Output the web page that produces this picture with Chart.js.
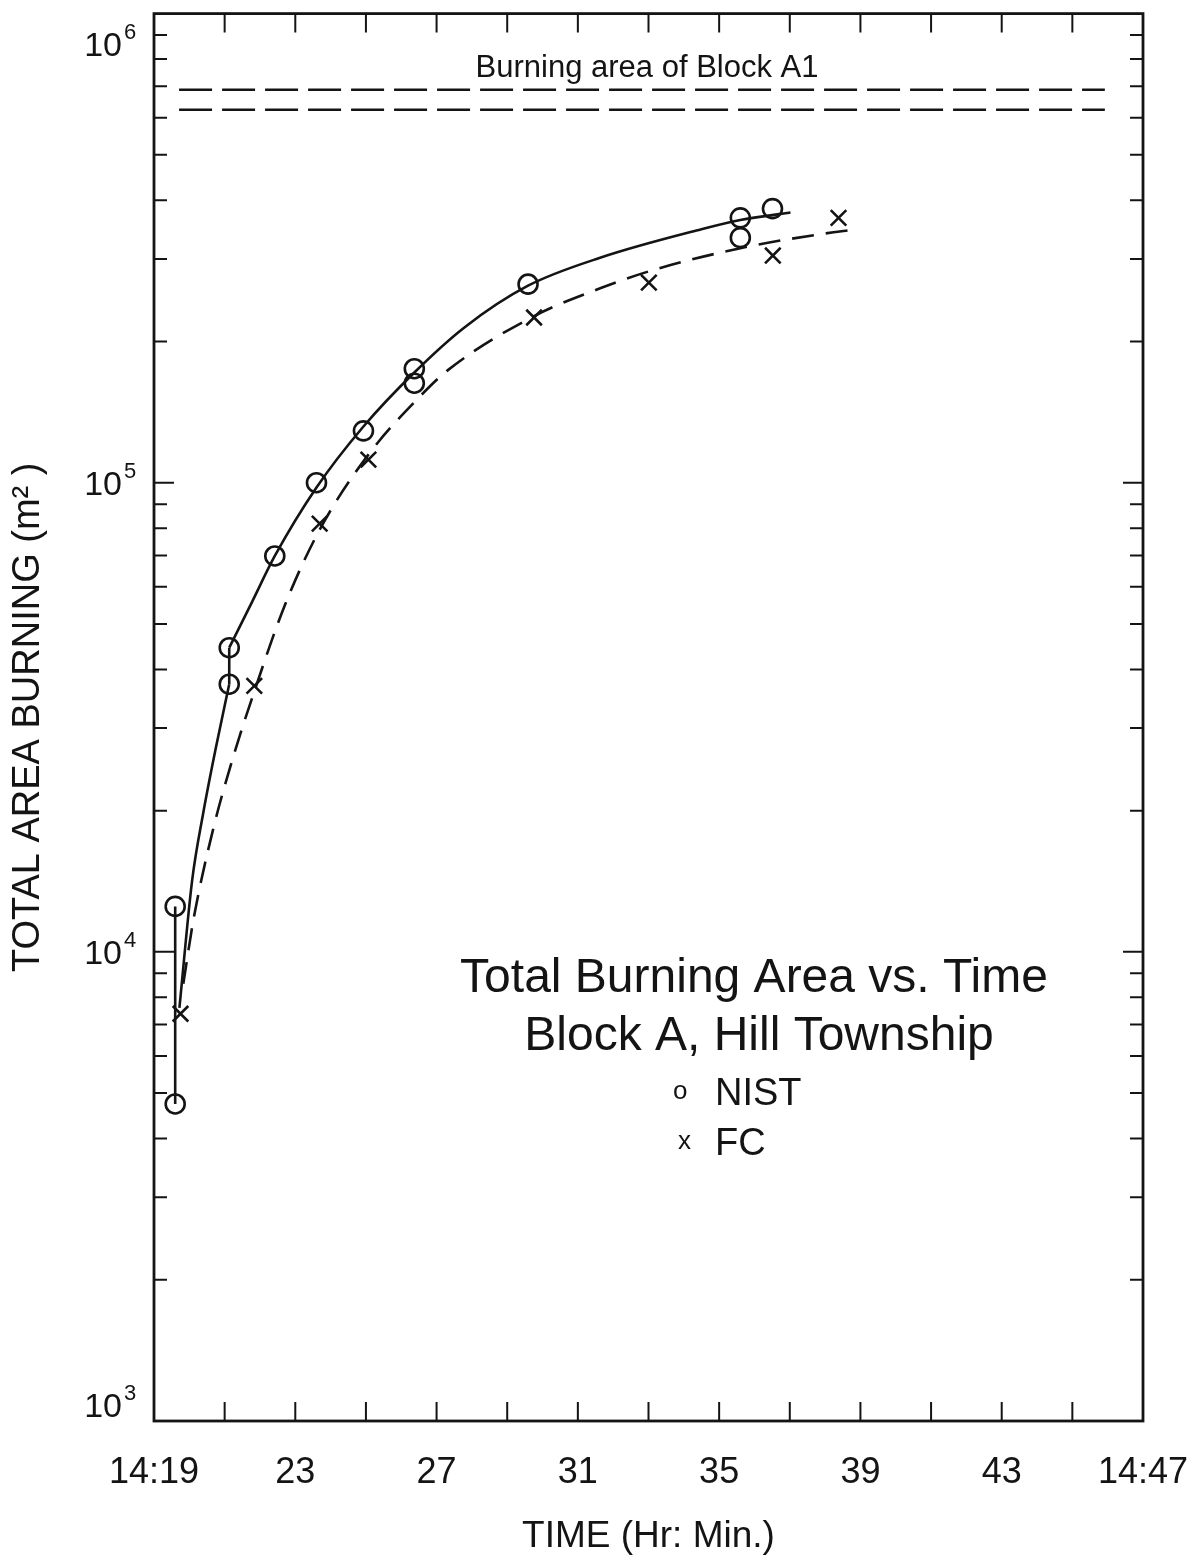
<!DOCTYPE html>
<html>
<head>
<meta charset="utf-8">
<script src="https://cdn.jsdelivr.net/npm/chart.js@4.4.1/dist/chart.umd.min.js"></script>
<style>
  html, body { margin: 0; padding: 0; background: #fff; }
  #wrap { width: 1194px; height: 1565px; }
</style>
</head>
<body>
<div id="wrap"><canvas id="area-chart" width="1194" height="1565"></canvas></div>
<script>
// measured points (minutes after 14:00, m^2)
const nistTime = [19.6, 19.6, 21.13, 21.13, 22.42, 23.6, 24.93, 26.37, 26.37, 29.59, 35.6, 35.6, 36.51];
const nistArea = [12500, 4740, 44500, 37200, 69800, 100000, 129000, 175000, 163000, 265000, 367000, 333000, 384000];
const fcTime = [19.75, 21.84, 23.69, 25.07, 29.76, 33.01, 36.52, 38.38];
const fcArea = [7380, 36900, 81800, 112000, 225000, 267000, 305000, 367000];

// hand-drawn fit curves
const nistFitLowTime = [19.72, 20.08, 20.39, 20.75, 21.13];
const nistFitLowArea = [7600, 14200, 19700, 27200, 37200];
const nistFitHighTime = [21.13, 21.77, 22.42, 23.6, 24.93, 26.37, 27.77, 29.59, 31.65, 34.48, 35.6, 37.02];
const nistFitHighArea = [44500, 55600, 69800, 97700, 131800, 171800, 213800, 263000, 302000, 346700, 363100, 376700];
const fcFitTime = [19.83, 20.12, 20.67, 21.22, 21.84, 22.71, 23.69, 25.07, 26.48, 27.32, 29.76, 31.65, 33.07, 35.6, 38.24, 38.66];
const fcFitArea = [8550, 11750, 18200, 25700, 35900, 54950, 79400, 114800, 151400, 173800, 226500, 260000, 283100, 316200, 342000, 345100];

// burning area of block A1 (two bounds)
const blockA1Area = [688000, 624000];
const blockA1Span = [19.71, 45.92];

// x tick labels
const timeMin = 19;
const timeMax = 47;
const timeLabels = { 19: "14:19", 23: "23", 27: "27", 31: "31", 35: "35", 39: "39", 43: "43", 47: "14:47" };
const decades = [3, 4, 5, 6];

const INK = "#141414";
const FONT = "'Liberation Sans', Arial, Helvetica, sans-serif";

const toPoints = (xs, ys) => xs.map((v, i) => ({ x: v, y: ys[i] }));

function rangeBar(i, j) {
    return toPoints([nistTime[i], nistTime[j]], [nistArea[i], nistArea[j]]);
}

const lineStyle = {
    showLine: true,
    pointRadius: 0,
    borderColor: INK,
    borderWidth: 2.6,
    fill: false,
};

const figureDecor = {
    id: "figureDecor",
    afterDatasetsDraw(chart) {
        const { ctx, chartArea: a, scales } = chart;
        const x = scales.x;
        const y = scales.y;
        ctx.save();
        ctx.strokeStyle = INK;
        ctx.fillStyle = INK;

        // frame
        ctx.lineWidth = 2.8;
        ctx.strokeRect(a.left, a.top, a.right - a.left, a.bottom - a.top);

        // inward ticks
        ctx.lineWidth = 2;
        ctx.beginPath();
        x.ticks.forEach((t) => {
            const px = x.getPixelForValue(t.value);
            if (px <= a.left + 2 || px >= a.right - 2) return;
            ctx.moveTo(px, a.bottom);
            ctx.lineTo(px, a.bottom - 19);
            ctx.moveTo(px, a.top);
            ctx.lineTo(px, a.top + 19);
        });
        for (let e = 3; e <= 5; e++) {
            for (let m = 1; m <= 9; m++) {
                if (e === 3 && m === 1) continue;
                const py = y.getPixelForValue(m * Math.pow(10, e));
                const len = m === 1 ? 20 : 13;
                ctx.moveTo(a.left, py);
                ctx.lineTo(a.left + len, py);
                ctx.moveTo(a.right, py);
                ctx.lineTo(a.right - len, py);
            }
        }
        ctx.stroke();

        // y tick labels 10^n
        decades.forEach((e) => {
            const py = y.getPixelForValue(Math.pow(10, e));
            let base = py + 12;
            if (e === 6) base = py + 42;
            if (e === 3) base = py - 4;
            ctx.textAlign = "right";
            ctx.textBaseline = "alphabetic";
            ctx.font = "34px " + FONT;
            ctx.fillText("10", 122, base);
            ctx.textAlign = "left";
            ctx.font = "22px " + FONT;
            ctx.fillText(String(e), 124, base - 17);
        });

        // annotations
        ctx.textBaseline = "alphabetic";
        ctx.textAlign = "center";
        ctx.font = "31px " + FONT;
        ctx.fillText("Burning area of Block A1", 647, 77);

        ctx.font = "48px " + FONT;
        ctx.fillText("Total Burning Area vs. Time", 754, 992);
        ctx.fillText("Block A, Hill Township", 759, 1050);

        ctx.textAlign = "left";
        ctx.font = "26px " + FONT;
        ctx.fillText("o", 673, 1099);
        ctx.fillText("x", 678, 1149);
        ctx.font = "38px " + FONT;
        ctx.fillText("NIST", 715, 1105);
        ctx.fillText("FC", 715, 1155);
        ctx.restore();
    },
};

document.addEventListener("DOMContentLoaded", () => {
    const ctx = document.getElementById("area-chart").getContext("2d");
    new Chart(ctx, {
        type: "scatter",
        data: {
            datasets: [
                {
                    ...lineStyle,
                    data: toPoints(blockA1Span, [blockA1Area[0], blockA1Area[0]]),
                    borderDash: [33, 10],
                    borderWidth: 2.4,
                },
                {
                    ...lineStyle,
                    data: toPoints(blockA1Span, [blockA1Area[1], blockA1Area[1]]),
                    borderDash: [33, 10],
                    borderWidth: 2.4,
                },
                { ...lineStyle, data: toPoints(nistFitLowTime, nistFitLowArea), cubicInterpolationMode: "monotone" },
                { ...lineStyle, data: toPoints(nistFitHighTime, nistFitHighArea), cubicInterpolationMode: "monotone" },
                { ...lineStyle, data: rangeBar(0, 1) },
                { ...lineStyle, data: rangeBar(2, 3) },
                {
                    ...lineStyle,
                    data: toPoints(fcFitTime, fcFitArea),
                    cubicInterpolationMode: "monotone",
                    borderDash: [22, 12],
                },
                {
                    label: "NIST",
                    data: toPoints(nistTime, nistArea),
                    pointStyle: "circle",
                    pointRadius: 9.5,
                    pointBorderWidth: 2.6,
                    pointBorderColor: INK,
                    pointBackgroundColor: "rgba(0,0,0,0)",
                },
                {
                    label: "FC",
                    data: toPoints(fcTime, fcArea),
                    pointStyle: "crossRot",
                    pointRadius: 11,
                    pointBorderWidth: 2.6,
                    pointBorderColor: INK,
                },
            ],
        },
        options: {
            responsive: false,
            animation: false,
            events: [],
            layout: { padding: { top: 13, right: 51, left: 0, bottom: 0 } },
            plugins: { legend: { display: false }, tooltip: { enabled: false } },
            scales: {
                x: {
                    type: "linear",
                    min: timeMin,
                    max: timeMax,
                    grid: { display: false, drawTicks: false },
                    border: { display: false },
                    ticks: {
                        stepSize: 2,
                        autoSkip: false,
                        maxRotation: 0,
                        padding: 30,
                        color: INK,
                        font: { size: 36, family: FONT },
                        callback: (v) => timeLabels[v] || "",
                    },
                    title: {
                        display: true,
                        text: "TIME (Hr: Min.)",
                        color: INK,
                        font: { size: 37, family: FONT },
                        padding: { top: 0, bottom: 6 },
                    },
                    afterFit: (scale) => {
                        scale.height = 144;
                        scale.paddingLeft = 0;
                        scale.paddingRight = 0;
                    },
                },
                y: {
                    type: "logarithmic",
                    min: 1000,
                    max: 1000000,
                    grid: { display: false, drawTicks: false },
                    border: { display: false },
                    ticks: { display: false },
                    title: {
                        display: true,
                        text: "TOTAL AREA BURNING (m² )",
                        color: INK,
                        font: { size: 38, family: FONT },
                        padding: { top: 6, bottom: 0 },
                    },
                    afterFit: (scale) => {
                        scale.width = 154;
                        scale.paddingTop = 0;
                        scale.paddingBottom = 0;
                    },
                },
            },
        },
        plugins: [figureDecor],
    });
});
</script>
</body>
</html>
